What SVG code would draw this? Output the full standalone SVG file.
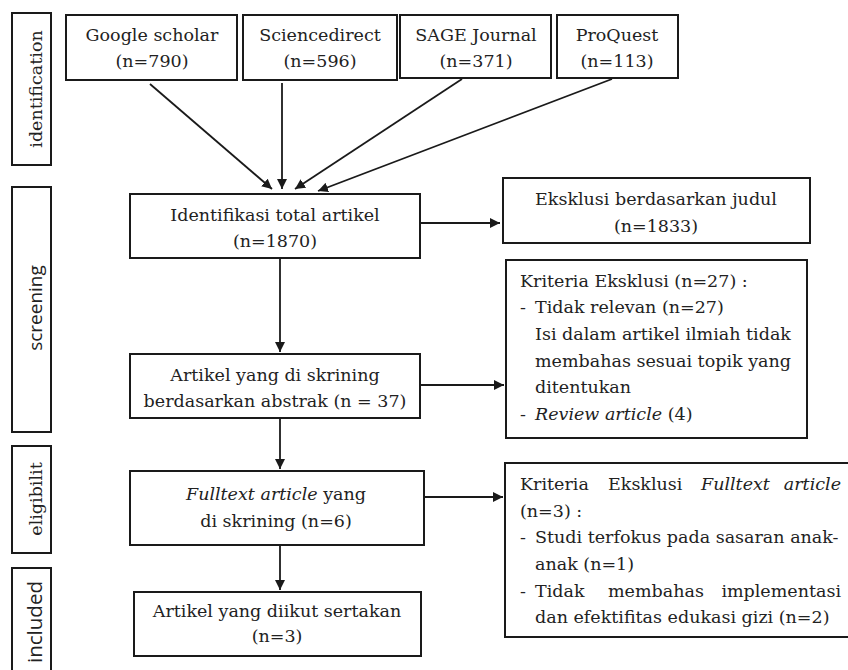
<svg xmlns="http://www.w3.org/2000/svg" width="848" height="670" viewBox="0 0 848 670">
<defs>
<marker id="ah" viewBox="0 0 10 10" refX="10" refY="5" markerWidth="10" markerHeight="10" markerUnits="userSpaceOnUse" orient="auto">
<path d="M0,0 L10,5 L0,10 z" fill="#1a1a1a"/>
</marker>
</defs>
<style>
.box{fill:#fff;stroke:#1a1a1a;stroke-width:2}
.t{font-family:"DejaVu Serif","Liberation Serif",serif;font-size:17.5px;fill:#222}
.c{text-anchor:middle}
.s{font-family:"Open Sans","Liberation Sans",sans-serif;font-size:19px;fill:#222}
.it{font-style:italic}
.con line{stroke:#1a1a1a;stroke-width:1.8;marker-end:url(#ah)}
</style>
<rect width="848" height="670" fill="#fff"/>

<g id="lab-identification">
<rect class="box" x="12" y="13" width="39" height="152"/>
<text class="t c" transform="translate(42,89) rotate(-90)">identification</text>
</g>
<g id="lab-screening">
<rect class="box" x="12" y="187" width="39" height="245"/>
<text class="s c" transform="translate(42,308) rotate(-90)">screening</text>
</g>
<g id="lab-eligibilit">
<rect class="box" x="12" y="446" width="39" height="107"/>
<text class="t c" transform="translate(42,499) rotate(-90)">eligibilit</text>
</g>
<g id="lab-included">
<rect class="box" x="12" y="568" width="39" height="110"/>
<text class="s c" transform="translate(42,622) rotate(-90)" style="font-size:20.5px">included</text>
</g>

<g id="google">
<rect class="box" x="66" y="15" width="171" height="65"/>
<text class="t c" x="152" y="41">Google scholar</text>
<text class="t c" x="152" y="67">(n=790)</text>
</g>
<g id="sciencedirect">
<rect class="box" x="243" y="15" width="154" height="65"/>
<text class="t c" x="320" y="41">Sciencedirect</text>
<text class="t c" x="320" y="67">(n=596)</text>
</g>
<g id="sage">
<rect class="box" x="400" y="15" width="151" height="63"/>
<text class="t c" x="476" y="41">SAGE Journal</text>
<text class="t c" x="476" y="67">(n=371)</text>
</g>
<g id="proquest">
<rect class="box" x="557" y="15" width="121" height="63"/>
<text class="t c" x="617" y="41">ProQuest</text>
<text class="t c" x="617" y="67">(n=113)</text>
</g>

<g id="identifikasi">
<rect class="box" x="130" y="194" width="290" height="64"/>
<text class="t c" x="275" y="221">Identifikasi total artikel</text>
<text class="t c" x="275" y="247">(n=1870)</text>
</g>
<g id="eksklusi-judul">
<rect class="box" x="503" y="178" width="307" height="65"/>
<text class="t c" x="656" y="205">Eksklusi berdasarkan judul</text>
<text class="t c" x="656" y="232">(n=1833)</text>
</g>
<g id="skrining-abstrak">
<rect class="box" x="130" y="354" width="290" height="64"/>
<text class="t c" x="275" y="381">Artikel yang di skrining</text>
<text class="t c" x="275" y="407">berdasarkan abstrak (n = 37)</text>
</g>
<g id="kriteria-eksklusi">
<rect class="box" x="506" y="260" width="301" height="178"/>
<text class="t" x="520" y="287">Kriteria Eksklusi (n=27) :</text>
<text class="t" x="520" y="313">-</text>
<text class="t" x="535" y="313">Tidak relevan (n=27)</text>
<text class="t" x="535" y="340">Isi dalam artikel ilmiah tidak</text>
<text class="t" x="535" y="367">membahas sesuai topik yang</text>
<text class="t" x="535" y="393">ditentukan</text>
<text class="t" x="520" y="420">-</text>
<text class="t" x="535" y="420"><tspan class="it">Review article</tspan> (4)</text>
</g>
<g id="fulltext">
<rect class="box" x="130" y="471" width="294" height="74"/>
<text class="t c" x="276" y="500"><tspan class="it">Fulltext article</tspan> yang</text>
<text class="t c" x="276" y="527">di skrining (n=6)</text>
</g>
<g id="kriteria-fulltext">
<rect class="box" x="505" y="463" width="350" height="174"/>
<text class="t" x="520" y="490">Kriteria</text>
<text class="t" x="608" y="490">Eksklusi</text>
<text class="t it" x="701" y="490">Fulltext</text>
<text class="t it" x="841" y="490" text-anchor="end">article</text>
<text class="t" x="520" y="517">(n=3) :</text>
<text class="t" x="520" y="543">-</text>
<text class="t" x="535" y="543">Studi terfokus pada sasaran anak-</text>
<text class="t" x="535" y="570">anak (n=1)</text>
<text class="t" x="520" y="597">-</text>
<text class="t" x="535" y="597">Tidak</text>
<text class="t" x="608" y="597">membahas</text>
<text class="t" x="841" y="597" text-anchor="end">implementasi</text>
<text class="t" x="535" y="623">dan efektifitas edukasi gizi (n=2)</text>
</g>
<g id="diikut">
<rect class="box" x="134" y="592" width="287" height="64"/>
<text class="t c" x="277" y="617">Artikel yang diikut sertakan</text>
<text class="t c" x="277" y="642">(n=3)</text>
</g>

<g id="connectors" class="con">
<line x1="150" y1="84" x2="272" y2="189"/>
<line x1="282" y1="83" x2="282" y2="189"/>
<line x1="462" y1="79" x2="295" y2="189"/>
<line x1="612" y1="79" x2="318" y2="191"/>
<line x1="420" y1="223" x2="500" y2="223"/>
<line x1="280" y1="259" x2="280" y2="352"/>
<line x1="420" y1="385" x2="504" y2="385"/>
<line x1="280" y1="419" x2="280" y2="469"/>
<line x1="424" y1="497" x2="503" y2="497"/>
<line x1="280" y1="546" x2="280" y2="590"/>
</g>
</svg>
